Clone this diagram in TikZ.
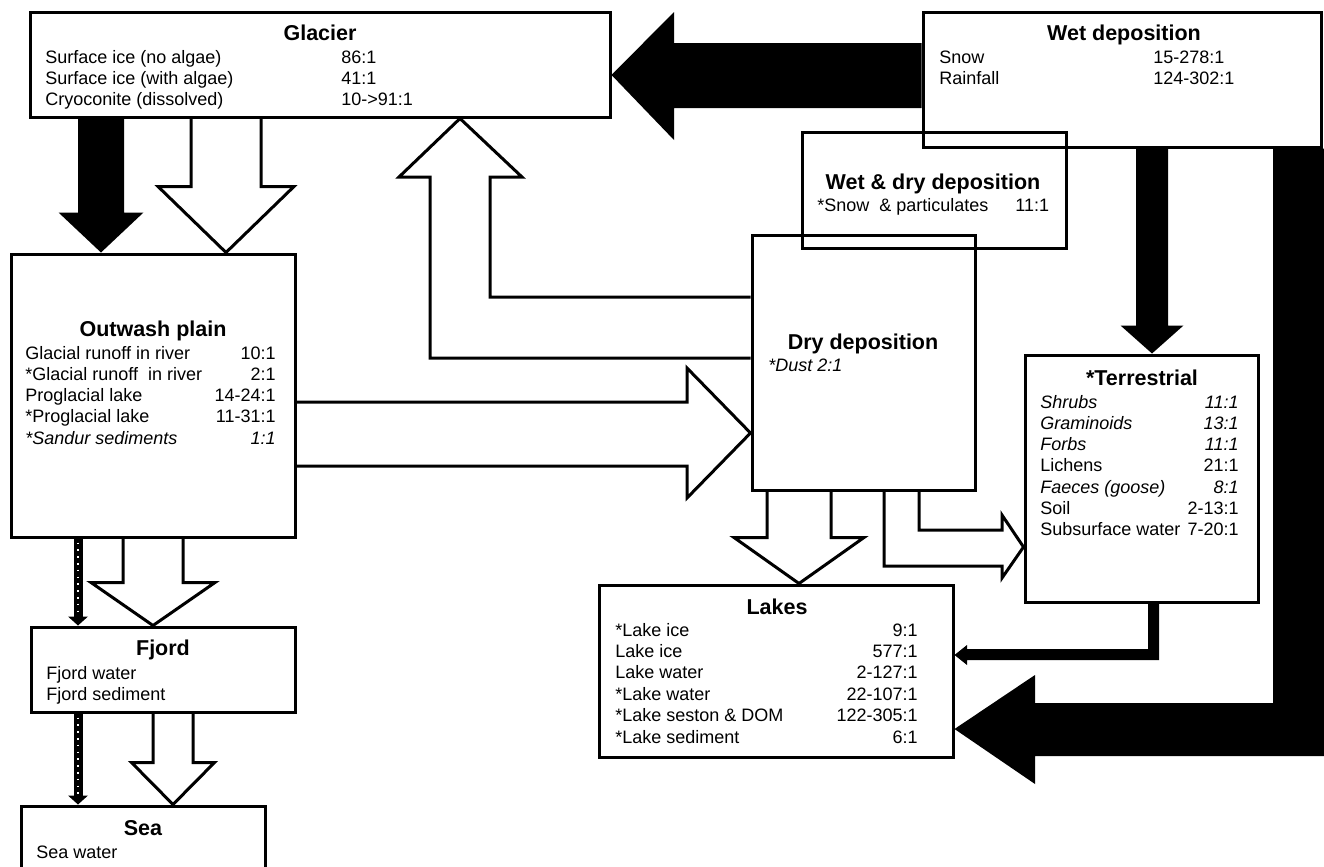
\documentclass[tikz,border=0pt]{standalone}
\usepackage{fontspec}
\setmainfont{Liberation Sans}
\usepackage{tikz}
\usetikzlibrary{calc,fit}
\tikzstyle{box}=[draw, line width=1.5pt, inner sep=0pt]
\tikzstyle{boxtitle}=[font=\fontsize{10.75}{12}\selectfont\bfseries, anchor=base, inner sep=0pt]
\tikzstyle{rowtext}=[font=\fontsize{9}{10.65}\selectfont, anchor=base west, inner sep=0pt]
\tikzstyle{rowvalue}=[rowtext, anchor=base east]
\tikzstyle{hollow}=[draw, line width=1.5pt, line join=miter]
\tikzstyle{blackflow}=[fill=black, draw=none]
% block arrow pointing down: style, x, from, to, shaft half, head half, head length
\newcommand{\flowdown}[7]{%
  \path (#2,0 |- #3) coordinate (fa) (#2,0 |- #4) coordinate (fb);
  \path[#1] ($(fa)+(-#5,0)$) -- ($(fb)+(-#5,-#7)$) -- ($(fb)+(-#6,-#7)$) -- (fb)
    -- ($(fb)+(#6,-#7)$) -- ($(fb)+(#5,-#7)$) -- ($(fa)+(#5,0)$);
}
% thick dotted arrow: x, from, to
\newcommand{\dottedflow}[3]{%
  \path (#1,0 |- #2) coordinate (fa) (#1,0 |- #3) coordinate (fb);
  \draw[line width=4.5pt] (fa) -- ($(fb)+(0,-8)$);
  \fill ($(fb)+(-10,-9)$) -- ($(fb)+(10,-9)$) -- (fb) -- cycle;
  \draw[white, line width=0.8pt, dash pattern=on 0.8pt off 2.6pt] ($(fa)+(0,4)$) -- ($(fb)+(0,-10)$);
}
\begin{document}
\begin{tikzpicture}[x=0.5pt, y=-0.5pt]
	\useasboundingbox (0,0) rectangle (1324,867);
	\clip (0,0) rectangle (1324,867);
	% compartments
	\node[box, fit={(30,12) (610,117)}] (glacier) {};
	\node[box, fit={(923,12) (1321,147)}] (wetdep) {};
	\node[box, fit={(802,132) (1066,248)}] (wetdry) {};
	\node[box, fit={(752,235) (975,490)}] (drydep) {};
	\node[box, fit={(11,254) (295,537)}] (outwash) {};
	\node[box, fit={(1025,355) (1258,602)}] (terr) {};
	\node[box, fit={(599,585) (953,757)}] (lakes) {};
	\node[box, fit={(31,627) (295,712)}] (fjord) {};
	\node[box, fit={(21,806) (265,900)}] (sea) {};

	\node[boxtitle] (glacier-t) at (320,40) {Glacier};
	\foreach \lab/\val [count=\i] in {Surface ice (no algae)/86:1, Surface ice (with algae)/41:1, Cryoconite (dissolved)/10->91:1}{
		\node[rowtext] (glacier-l\i) at (45,{42+21*\i}) {\lab};
		\node[rowtext] (glacier-v\i) at (341,{42+21*\i}) {\val};
	}
	\node[boxtitle] (wetdep-t) at (1124,40) {Wet deposition};
	\foreach \lab/\val [count=\i] in {Snow/15-278:1, Rainfall/124-302:1}{
		\node[rowtext] (wetdep-l\i) at (939,{42+21*\i}) {\lab};
		\node[rowtext] (wetdep-v\i) at (1153,{42+21*\i}) {\val};
	}
	\node[boxtitle] (wetdry-t) at (933,189.5) {Wet \& dry deposition};
	\node[rowtext] (wetdry-l1) at (817,211) {*Snow~ \& particulates};
	\node[rowtext] (wetdry-v1) at (1015,211) {11:1};
	\node[boxtitle] (drydep-t) at (863,349.5) {Dry deposition};
	\node[rowtext] (drydep-l1) at (768,371) {\textit{*Dust 2:1}};
	\node[boxtitle] (outwash-t) at (153,336.5) {Outwash plain};
	\foreach \lab/\val [count=\i] in {Glacial runoff in river/10:1, *Glacial runoff~ in river/2:1, Proglacial lake/14-24:1, *Proglacial lake/11-31:1, \textit{*Sandur sediments}/\textit{1:1}}{
		\node[rowtext] (outwash-l\i) at (25,{337.75+21.25*\i}) {\lab};
		\node[rowvalue] (outwash-v\i) at (276,{337.75+21.25*\i}) {\val};
	}
	\node[boxtitle] (terr-t) at (1142,385.5) {*Terrestrial};
	\foreach \lab/\val [count=\i] in {\textit{Shrubs}/\textit{11:1}, \textit{Graminoids}/\textit{13:1}, \textit{Forbs}/\textit{11:1}, Lichens/21:1, \textit{Faeces (goose)}/\textit{8:1}, Soil/2-13:1, Subsurface water/7-20:1}{
		\node[rowtext] (terr-l\i) at (1040,{386.67+21.33*\i}) {\lab};
		\node[rowvalue] (terr-v\i) at (1239,{386.67+21.33*\i}) {\val};
	}
	\node[boxtitle] (lakes-t) at (777,614.5) {Lakes};
	\foreach \lab/\val [count=\i] in {*Lake ice/9:1, Lake ice/577:1, Lake water/2-127:1, *Lake water/22-107:1, *Lake seston \& DOM/122-305:1, *Lake sediment/6:1}{
		\node[rowtext] (lakes-l\i) at (615,{614.6+21.4*\i}) {\lab};
		\node[rowvalue] (lakes-v\i) at (918,{614.6+21.4*\i}) {\val};
	}
	\node[boxtitle] (fjord-t) at (163,655.5) {Fjord};
	\node[rowtext] (fjord-l1) at (46,679) {Fjord water};
	\node[rowtext] (fjord-l2) at (46,700) {Fjord sediment};
	\node[boxtitle] (sea-t) at (143,835.5) {Sea};
	\node[rowtext] (sea-l1) at (36,858) {Sea water};

	% fluxes
	\fill[blackflow] (wetdep.west |- 0,43) -- (674,43) -- (674,12) -- (glacier.east |- 0,75) -- (674,140) -- (674,108) -- (wetdep.west |- 0,108) -- cycle;
	\flowdown{blackflow}{101}{glacier.south}{outwash.north}{23}{42.5}{40}
	\flowdown{hollow}{226}{glacier.south}{outwash.north}{35}{68}{66}
	\draw[hollow] (drydep.west |- 0,358) -- (430,358) -- (430,177) -- (399,177) -- (glacier.south -| 460,0) -- (522,177) -- (490,177) -- (490,297) -- (drydep.west |- 0,297);
	\draw[hollow] (outwash.east |- 0,402) -- (687,402) -- (687,368) -- (drydep.west |- 0,433) -- (687,498) -- (687,466) -- (outwash.east |- 0,466);
	\flowdown{blackflow}{1152}{wetdep.south}{terr.north}{16}{31.5}{28}
	\fill[blackflow] (wetdep.south -| 1273,0) -- (1273,703) -- (1035,703) -- (1035,675) -- (lakes.east |- 0,729) -- (1035,784) -- (1035,756) -- (1330,756) -- (wetdep.south -| 1330,0) -- cycle;
	\flowdown{hollow}{799}{drydep.south}{lakes.north}{32}{65}{46}
	\draw[hollow] (884,0 |- drydep.south) -- (884,566) -- (1002,566) -- (1002,578) -- (terr.west |- 0,547) -- (1002,515) -- (1002,530) -- (919,530) -- (919,0 |- drydep.south);
	\fill[blackflow] (1148,0 |- terr.south) -- (1148,649) -- (967,649) -- (967,645) -- (lakes.east |- 0,655) -- (967,665) -- (967,660) -- (1159,660) -- (1159,0 |- terr.south) -- cycle;
	\dottedflow{78}{outwash.south}{fjord.north}
	\flowdown{hollow}{153}{outwash.south}{fjord.north}{30}{62}{43}
	\dottedflow{78}{fjord.south}{sea.north}
	\flowdown{hollow}{173}{fjord.south}{sea.north}{20}{41.5}{42}
\end{tikzpicture}
\end{document}
